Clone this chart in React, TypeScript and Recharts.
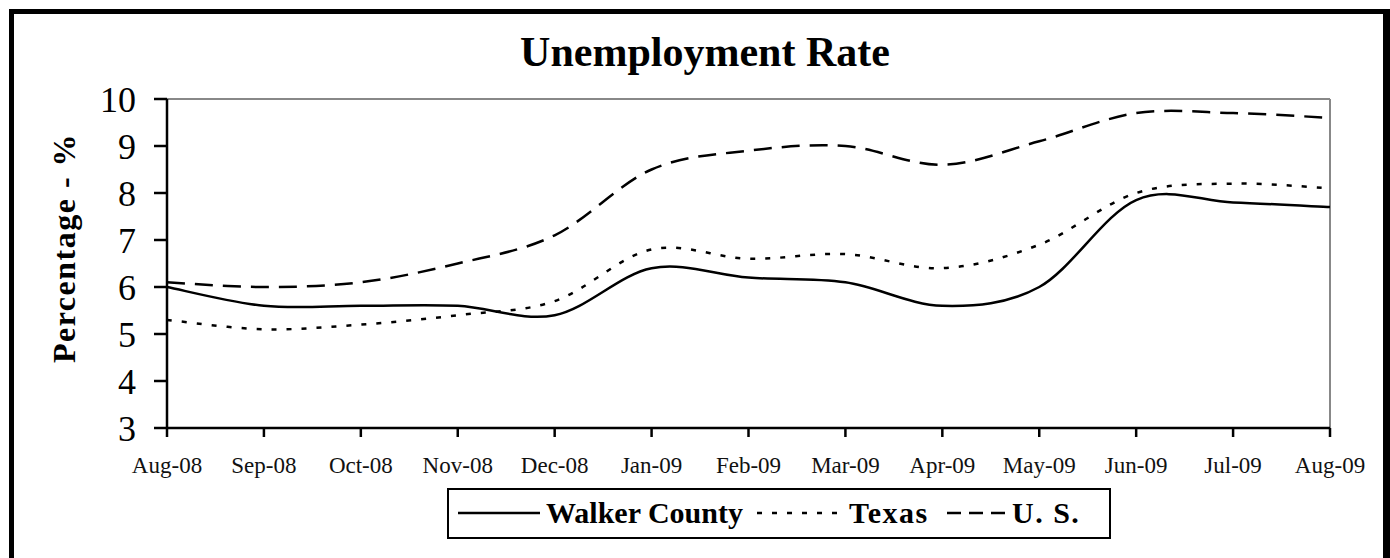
import { LineChart, Line, XAxis, YAxis, ReferenceLine } from "recharts";

const months = [
  "Aug-08", "Sep-08", "Oct-08", "Nov-08", "Dec-08", "Jan-09", "Feb-09",
  "Mar-09", "Apr-09", "May-09", "Jun-09", "Jul-09", "Aug-09",
];
const walker = [6.0, 5.6, 5.6, 5.6, 5.4, 6.4, 6.2, 6.1, 5.6, 6.0, 7.85, 7.8, 7.7];
const texas = [5.3, 5.1, 5.2, 5.4, 5.7, 6.8, 6.6, 6.7, 6.4, 6.9, 8.0, 8.2, 8.1];
const us = [6.1, 6.0, 6.1, 6.5, 7.1, 8.5, 8.9, 9.0, 8.6, 9.1, 9.7, 9.7, 9.6];
const yTicks = [3, 4, 5, 6, 7, 8, 9, 10];

const data = months.map((m, i) => ({
  month: m,
  walker: walker[i],
  texas: texas[i],
  us: us[i],
}));

const FONT = '"Liberation Serif", "Times New Roman", serif';

// Excel-style smoothed line: bezier segments through every point
const smoothCurve = (context: any) => {
  let pts: number[][] = [];
  return {
    areaStart() {},
    areaEnd() {},
    lineStart() {
      pts = [];
    },
    point(x: number, y: number) {
      pts.push([+x, +y]);
    },
    lineEnd() {
      const n = pts.length;
      if (!n) return;
      context.moveTo(pts[0][0], pts[0][1]);
      for (let i = 0; i < n - 1; i++) {
        const p0 = pts[Math.max(i - 1, 0)];
        const p1 = pts[i];
        const p2 = pts[i + 1];
        const p3 = pts[Math.min(i + 2, n - 1)];
        context.bezierCurveTo(
          p1[0] + (p2[0] - p0[0]) / 6,
          p1[1] + (p2[1] - p0[1]) / 6,
          p2[0] - (p3[0] - p1[0]) / 6,
          p2[1] - (p3[1] - p1[1]) / 6,
          p2[0],
          p2[1]
        );
      }
    },
  };
};

const series = [
  { key: "walker", name: "Walker County", dash: undefined, legendDash: undefined },
  { key: "texas", name: "Texas", dash: "5 10", legendDash: "5 10" },
  { key: "us", name: "U. S.", dash: "18 10", legendDash: "14 8" },
];

// legend entry spots inside the box (sample start, sample width, text start)
const legendSpots = [
  { sx: 9, sw: 82, tx: 97 },
  { sx: 308, sw: 85, tx: 400 },
  { sx: 498, sw: 58, tx: 563 },
];

const LegendBox = () => (
  <div
    style={{
      position: "absolute",
      left: 447,
      top: 488,
      width: 664,
      height: 51,
      boxSizing: "border-box",
      border: "2px solid #000",
      fontFamily: FONT,
      fontWeight: "bold",
      fontSize: 30,
      whiteSpace: "nowrap",
    }}
  >
    {series.map((s, i) => (
      <div key={s.key}>
        <svg
          width={legendSpots[i].sw}
          height={10}
          style={{ position: "absolute", left: legendSpots[i].sx, top: 18 }}
        >
          <line
            x1={0}
            y1={5}
            x2={legendSpots[i].sw}
            y2={5}
            stroke="#000"
            strokeWidth={2.5}
            strokeDasharray={s.legendDash}
          />
        </svg>
        <span
          style={{
            position: "absolute",
            left: legendSpots[i].tx,
            top: 5,
            lineHeight: "36px",
            letterSpacing: i === 0 ? 0 : 1.5,
          }}
        >
          {s.name}
        </span>
      </div>
    ))}
  </div>
);

export default function App() {
  return (
    <div
      style={{
        position: "fixed",
        left: 0,
        top: 0,
        width: 1390,
        height: 558,
        background: "#fff",
        overflow: "hidden",
      }}
    >
      <div
        style={{
          position: "absolute",
          left: 9,
          top: 9,
          width: 1400,
          height: 600,
          border: "5px solid #000",
          boxSizing: "border-box",
        }}
      />
      <div
        style={{
          position: "absolute",
          left: 1383,
          top: 9,
          width: 7,
          height: 560,
          background: "#000",
        }}
      />
      <div
        style={{
          position: "absolute",
          left: 0,
          width: 1410,
          top: 31,
          textAlign: "center",
          fontFamily: FONT,
          fontWeight: "bold",
          fontSize: 42,
          lineHeight: "42px",
        }}
      >
        Unemployment Rate
      </div>
      <div
        style={{
          position: "absolute",
          left: 64,
          top: 248,
          transform: "translate(-50%, -50%) rotate(-90deg)",
          fontFamily: FONT,
          fontWeight: "bold",
          fontSize: 32,
          letterSpacing: 1.5,
          whiteSpace: "nowrap",
        }}
      >
        Percentage - %
      </div>
      <div style={{ position: "absolute", left: 0, top: 0 }}>
        <LineChart
          width={1390}
          height={558}
          data={data}
          margin={{ top: 99, right: 60, bottom: 70, left: 107 }}
        >
          <ReferenceLine y={10} stroke="#888" strokeWidth={2} />
          <ReferenceLine x="Aug-09" stroke="#888" strokeWidth={2} />
          <XAxis
            dataKey="month"
            interval={0}
            height={60}
            axisLine={{ stroke: "#000", strokeWidth: 2.5 }}
            tickLine={{ stroke: "#000", strokeWidth: 2.5 }}
            tickSize={9}
            tickMargin={20}
            tick={{ fill: "#111", fontFamily: FONT, fontSize: 23 }}
          />
          <YAxis
            domain={[3, 10]}
            ticks={yTicks}
            interval={0}
            width={60}
            axisLine={{ stroke: "#000", strokeWidth: 2.5 }}
            tickLine={{ stroke: "#000", strokeWidth: 2.5 }}
            tickSize={13}
            tickMargin={18}
            tick={{ fill: "#000", fontFamily: FONT, fontSize: 36 }}
          />
          {series.map((s) => (
            <Line
              key={s.key}
              dataKey={s.key}
              name={s.name}
              type={smoothCurve as any}
              stroke="#000"
              strokeWidth={2.5}
              strokeDasharray={s.dash}
              dot={false}
              activeDot={false}
              isAnimationActive={false}
            />
          ))}
        </LineChart>
      </div>
      <LegendBox />
    </div>
  );
}
